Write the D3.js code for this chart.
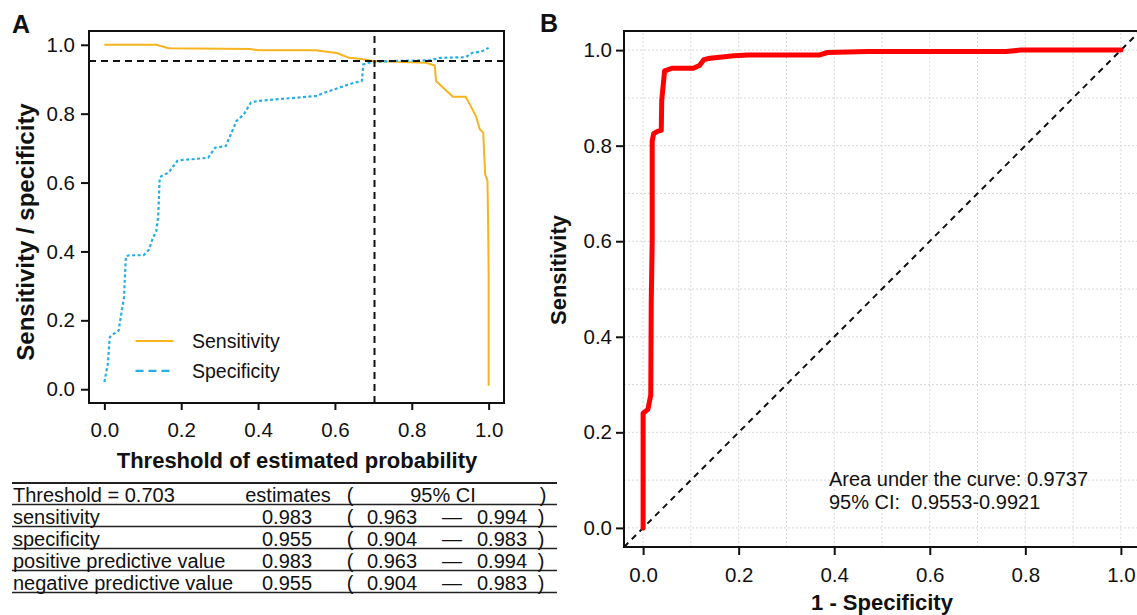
<!DOCTYPE html>
<html><head><meta charset="utf-8">
<script src="https://cdn.jsdelivr.net/npm/d3@7"></script>
<style>
body{margin:0;background:#fff}
svg{display:block}
text{font-family:"Liberation Sans",Arial,sans-serif;fill:#111}
</style>
</head><body>
<svg id="c" width="1137" height="615"></svg>
<script>
// ---------- data ----------
const axisTicks = [0, 0.2, 0.4, 0.6, 0.8, 1.0];
const gridTicks = [0,0.1,0.2,0.3,0.4,0.5,0.6,0.7,0.8,0.9,1.0];

// Panel A: sensitivity vs threshold
const sensThreshold = [0,0.135,0.167,0.38,0.40,0.549,0.605,0.637,0.67,0.698,0.837,0.86,0.863,0.884,0.907,0.94,0.951,0.967,0.977,0.986,0.991,0.997,0.999,1.0,1.0];
const sensValue     = [1.0,1.0,0.99,0.988,0.984,0.984,0.976,0.962,0.959,0.953,0.948,0.94,0.895,0.873,0.849,0.849,0.827,0.793,0.755,0.745,0.624,0.605,0.45,0.34,0.01];

// Panel A: specificity vs threshold
const specThreshold = [0,0.009,0.014,0.023,0.037,0.051,0.056,0.065,0.102,0.116,0.126,0.135,0.14,0.144,0.149,0.167,0.19,0.2,0.27,0.288,0.316,0.344,0.363,0.381,0.4,0.474,0.549,0.586,0.623,0.651,0.67,0.674,0.688,0.698,0.753,0.847,0.874,0.94,0.958,0.981,1.0];
const specValue     = [0.021,0.074,0.151,0.16,0.17,0.266,0.386,0.389,0.389,0.405,0.439,0.458,0.50,0.614,0.619,0.629,0.663,0.665,0.672,0.701,0.706,0.779,0.798,0.832,0.837,0.844,0.851,0.866,0.88,0.89,0.895,0.943,0.948,0.95,0.953,0.955,0.962,0.964,0.977,0.98,0.991];

const cutThreshold = 0.703;
const cutLevel = 0.953;
const legendLabels = ["Sensitivity", "Specificity"];

// Panel B: ROC curve
const rocFpr = [0,0,0.01,0.016,0.017,0.019,0.019,0.022,0.03,0.038,0.039,0.045,0.05,0.06,0.105,0.118,0.127,0.14,0.19,0.22,0.37,0.386,0.47,0.76,0.79,1.0];
const rocTpr = [0,0.24,0.248,0.278,0.47,0.6,0.81,0.825,0.83,0.832,0.895,0.957,0.958,0.962,0.962,0.968,0.98,0.983,0.988,0.99,0.99,0.995,0.997,0.997,1.0,1.0];
const aucLines = ["Area under the curve: 0.9737", "95% CI:  0.9553-0.9921"];

// Table
const tableHeader = ["Threshold = 0.703", "estimates", "(", "95% CI", ")"];
const tableRows = ["sensitivity", "specificity", "positive predictive value", "negative predictive value"];
const tableEst  = ["0.983", "0.955", "0.983", "0.955"];
const tableLow  = ["0.963", "0.904", "0.963", "0.904"];
const tableHigh = ["0.994", "0.983", "0.994", "0.983"];

// ---------- drawing ----------
const svg = d3.select("#c");
const fmt = d3.format(".1f");
const ORANGE = "#f7b41f", BLUE = "#22aee6";
const TICKF = 20.5;

// ===== Panel A =====
const xA = d3.scaleLinear().domain([-0.04, 1.04]).range([89, 504]);
const yA = d3.scaleLinear().domain([-0.04, 1.04]).range([403, 31]);
const gA = svg.append("g");

gA.append("text").attr("x", 12).attr("y", 33).attr("font-size", 25).attr("font-weight", "bold").text("A");

const line = (xs, ys, sx, sy) => d3.line().x((d,i)=>sx(xs[i])).y((d,i)=>sy(ys[i]))(xs);

gA.append("path").attr("d", line(sensThreshold, sensValue, xA, yA))
  .attr("fill","none").attr("stroke",ORANGE).attr("stroke-width",2);
gA.append("path").attr("d", line(specThreshold, specValue, xA, yA))
  .attr("fill","none").attr("stroke",BLUE).attr("stroke-width",2.2).attr("stroke-dasharray","3,2.5");

gA.append("line").attr("x1", xA(-0.04)).attr("x2", xA(1.04)).attr("y1", yA(cutLevel)).attr("y2", yA(cutLevel))
  .attr("stroke","#111").attr("stroke-width",2).attr("stroke-dasharray","7,5");
gA.append("line").attr("x1", xA(cutThreshold)).attr("x2", xA(cutThreshold)).attr("y1", yA(-0.04)).attr("y2", yA(1.04))
  .attr("stroke","#111").attr("stroke-width",2).attr("stroke-dasharray","7,5");

// legend
const legY = [yA(0.14), yA(0.053)];
gA.append("line").attr("x1", xA(0.081)).attr("x2", xA(0.18)).attr("y1", legY[0]).attr("y2", legY[0]).attr("stroke",ORANGE).attr("stroke-width",2);
gA.append("line").attr("x1", xA(0.081)).attr("x2", xA(0.18)).attr("y1", legY[1]).attr("y2", legY[1]).attr("stroke",BLUE).attr("stroke-width",2.2).attr("stroke-dasharray","8,5");
legendLabels.forEach((t,i)=>{
  gA.append("text").attr("x", xA(0.228)).attr("y", legY[i]).attr("dy","0.35em").attr("font-size",19.5).text(t);
});

gA.append("rect").attr("x",89).attr("y",31).attr("width",415).attr("height",372)
  .attr("fill","none").attr("stroke","#111").attr("stroke-width",2);

const axA_y = gA.append("g").attr("transform","translate(89,0)")
  .call(d3.axisLeft(yA).tickValues(axisTicks).tickFormat(fmt).tickSize(8).tickPadding(6));
const axA_x = gA.append("g").attr("transform","translate(0,403)")
  .call(d3.axisBottom(xA).tickValues(axisTicks).tickFormat(fmt).tickSize(7).tickPadding(12));
[axA_y, axA_x].forEach(a=>{
  a.select(".domain").remove();
  a.selectAll(".tick line").attr("stroke","#111").attr("stroke-width",2);
  a.selectAll(".tick text").attr("font-size",TICKF).attr("fill","#111").style("font-family","'Liberation Sans',Arial,sans-serif");
});

gA.append("text").attr("x", 297).attr("y", 468).attr("text-anchor","middle").attr("font-size",22).attr("font-weight","bold")
  .text("Threshold of estimated probability");
gA.append("text").attr("transform","translate(34,232) rotate(-90)").attr("text-anchor","middle").attr("font-size",24).attr("font-weight","bold")
  .text("Sensitivity / specificity");

// ===== Table =====
const gT = svg.append("g");
const lineYs = [483, 504.5, 526.5, 548.5, 570.5, 592.5];
lineYs.forEach((y,i)=>{
  gT.append("line").attr("x1",12).attr("x2",557).attr("y1",y).attr("y2",y)
    .attr("stroke","#222").attr("stroke-width", i===0 ? 2 : 1.6);
});
const TF = 20;
const rowBase = i => lineYs[i+1] - 3;
gT.append("text").attr("x",13).attr("y",rowBase(0)).attr("font-size",TF).text(tableHeader[0]);
gT.append("text").attr("x",288).attr("y",rowBase(0)).attr("font-size",TF).attr("text-anchor","middle").text(tableHeader[1]);
gT.append("text").attr("x",350).attr("y",rowBase(0)).attr("font-size",TF).attr("text-anchor","middle").text(tableHeader[2]);
gT.append("text").attr("x",443).attr("y",rowBase(0)).attr("font-size",TF).attr("text-anchor","middle").text(tableHeader[3]);
gT.append("text").attr("x",543).attr("y",rowBase(0)).attr("font-size",TF).attr("text-anchor","middle").text(tableHeader[4]);
tableRows.forEach((r,i)=>{
  const b = rowBase(i+1);
  gT.append("text").attr("x",13).attr("y",b).attr("font-size",TF).text(r);
  gT.append("text").attr("x",287).attr("y",b).attr("font-size",TF).attr("text-anchor","middle").text(tableEst[i]);
  gT.append("text").attr("x",350).attr("y",b).attr("font-size",TF).attr("text-anchor","middle").text("(");
  gT.append("text").attr("x",392).attr("y",b).attr("font-size",TF).attr("text-anchor","middle").text(tableLow[i]);
  gT.append("text").attr("x",452).attr("y",b).attr("font-size",TF).attr("text-anchor","middle").text("—");
  gT.append("text").attr("x",502).attr("y",b).attr("font-size",TF).attr("text-anchor","middle").text(tableHigh[i]);
  gT.append("text").attr("x",541).attr("y",b).attr("font-size",TF).attr("text-anchor","middle").text(")");
});

// ===== Panel B =====
const xB = d3.scaleLinear().domain([-0.04, 1.04]).range([624, 1140]);
const yB = d3.scaleLinear().domain([-0.04, 1.04]).range([547, 31]);
const gB = svg.append("g");

gB.append("text").attr("x", 540).attr("y", 32).attr("font-size", 25).attr("font-weight", "bold").text("B");

gridTicks.forEach(t=>{
  gB.append("line").attr("x1",xB(t)).attr("x2",xB(t)).attr("y1",yB(-0.04)).attr("y2",yB(1.04))
    .attr("stroke","#d9d9d9").attr("stroke-width",1).attr("stroke-dasharray","2,2");
  gB.append("line").attr("x1",xB(-0.04)).attr("x2",xB(1.04)).attr("y1",yB(t)).attr("y2",yB(t))
    .attr("stroke","#d9d9d9").attr("stroke-width",1).attr("stroke-dasharray","2,2");
});

gB.append("line").attr("x1",xB(-0.04)).attr("y1",yB(-0.04)).attr("x2",xB(1.04)).attr("y2",yB(1.04))
  .attr("stroke","#111").attr("stroke-width",2).attr("stroke-dasharray","6,5");

gB.append("path").attr("d", line(rocFpr, rocTpr, xB, yB))
  .attr("fill","none").attr("stroke","#ff0000").attr("stroke-width",5)
  .attr("stroke-linejoin","round").attr("stroke-linecap","round");

gB.append("rect").attr("x",624).attr("y",31).attr("width",516).attr("height",516)
  .attr("fill","none").attr("stroke","#111").attr("stroke-width",2);

const axB_y = gB.append("g").attr("transform","translate(624,0)")
  .call(d3.axisLeft(yB).tickValues(axisTicks).tickFormat(fmt).tickSize(8).tickPadding(4));
const axB_x = gB.append("g").attr("transform","translate(0,547)")
  .call(d3.axisBottom(xB).tickValues(axisTicks).tickFormat(fmt).tickSize(8).tickPadding(12));
[axB_y, axB_x].forEach(a=>{
  a.select(".domain").remove();
  a.selectAll(".tick line").attr("stroke","#111").attr("stroke-width",2);
  a.selectAll(".tick text").attr("font-size",TICKF).attr("fill","#111").style("font-family","'Liberation Sans',Arial,sans-serif");
});

aucLines.forEach((t,i)=>{
  gB.append("text").attr("x", 829).attr("y", 486 + i*23).attr("font-size",20).attr("fill","#333")
    .style("white-space","pre").text(t);
});

gB.append("text").attr("x", 882).attr("y", 610).attr("text-anchor","middle").attr("font-size",22).attr("font-weight","bold")
  .text("1 - Specificity");
gB.append("text").attr("transform","translate(566,270) rotate(-90)").attr("text-anchor","middle").attr("font-size",22).attr("font-weight","bold")
  .text("Sensitivity");
</script>
</body></html>
